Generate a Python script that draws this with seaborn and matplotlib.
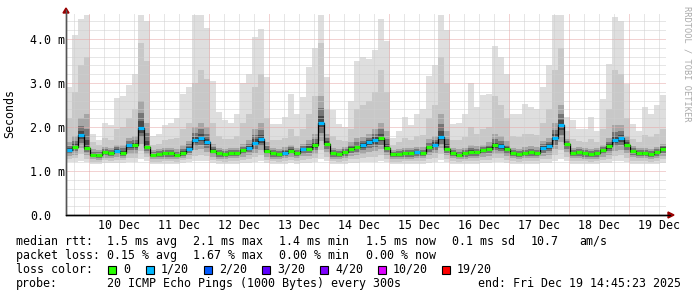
import numpy as np
import matplotlib
matplotlib.use("Agg")
import matplotlib.pyplot as plt
from matplotlib.patches import Rectangle, Polygon
import seaborn as sns

# ---------------- data (ms), one value per 2.4 h bin, start Dec 9 14:45 ----------------
median_ms = [1.47, 1.55, 1.82, 1.52, 1.37, 1.36, 1.43, 1.40, 1.46, 1.42,
             1.58, 1.58, 1.97, 1.55, 1.37, 1.38, 1.40, 1.40, 1.37, 1.42,
             1.51, 1.71, 1.76, 1.65, 1.46, 1.40, 1.38, 1.41, 1.41, 1.47,
             1.53, 1.64, 1.72, 1.46, 1.40, 1.38, 1.42, 1.46, 1.41, 1.49,
             1.51, 1.58, 2.10, 1.62, 1.40, 1.38, 1.43, 1.51, 1.55, 1.58,
             1.65, 1.70, 1.76, 1.53, 1.38, 1.38, 1.40, 1.40, 1.43, 1.41,
             1.55, 1.60, 1.78, 1.51, 1.41, 1.37, 1.40, 1.43, 1.43, 1.47,
             1.50, 1.58, 1.56, 1.49, 1.41, 1.38, 1.41, 1.43, 1.41, 1.52,
             1.56, 1.75, 2.05, 1.62, 1.41, 1.43, 1.40, 1.38, 1.40, 1.47,
             1.56, 1.70, 1.74, 1.60, 1.46, 1.41, 1.41, 1.38, 1.43, 1.51]
max_ms = [2.90, 4.10, 4.45, 4.55, 1.85, 1.70, 2.10, 2.05, 2.65, 2.70,
          2.95, 3.20, 4.55, 4.40, 1.80, 1.85, 2.05, 2.10, 2.20, 2.75,
          2.90, 4.55, 4.55, 4.25, 3.05, 2.34, 2.15, 2.10, 2.30, 3.00,
          3.20, 4.05, 4.22, 3.13, 2.07, 2.07, 2.22, 2.75, 2.30, 2.68,
          3.36, 3.80, 4.55, 3.13, 2.38, 2.07, 2.00, 2.60, 3.50, 3.58,
          3.55, 3.74, 4.45, 3.96, 1.74, 1.92, 2.22, 2.04, 2.30, 2.41,
          3.17, 3.40, 4.55, 4.20, 2.07, 2.10, 2.30, 3.00, 2.45, 2.72,
          2.75, 3.85, 3.60, 3.20, 2.30, 2.30, 2.53, 2.45, 2.41, 2.90,
          3.40, 4.55, 4.55, 2.22, 2.15, 1.96, 1.96, 2.22, 1.92, 2.64,
          3.43, 4.50, 4.40, 2.98, 2.07, 1.92, 2.45, 2.30, 2.50, 2.72]
p90_ms = [2.20, 2.80, 3.40, 3.60, 1.65, 1.60, 1.75, 1.70, 1.95, 2.00,
          2.20, 2.40, 3.90, 3.50, 1.60, 1.62, 1.70, 1.72, 1.75, 1.95,
          2.10, 3.00, 3.30, 3.10, 2.10, 1.80, 1.72, 1.72, 1.80, 2.10,
          2.30, 2.90, 3.20, 2.20, 1.70, 1.70, 1.75, 1.95, 1.80, 1.95,
          2.30, 2.70, 3.90, 2.40, 1.80, 1.70, 1.68, 1.95, 2.40, 2.50,
          2.60, 2.80, 3.30, 2.80, 1.60, 1.65, 1.75, 1.70, 1.80, 1.82,
          2.20, 2.50, 3.60, 3.00, 1.70, 1.70, 1.78, 2.00, 1.85, 1.95,
          2.00, 2.70, 2.50, 2.20, 1.80, 1.78, 1.85, 1.85, 1.82, 2.10,
          2.40, 3.30, 3.80, 1.90, 1.72, 1.68, 1.66, 1.72, 1.65, 1.95,
          2.40, 3.30, 3.20, 2.20, 1.72, 1.65, 1.82, 1.78, 1.85, 1.95]
p75_ms = [1.65, 1.80, 2.20, 2.30, 1.50, 1.48, 1.55, 1.52, 1.60, 1.60,
          1.75, 1.80, 2.60, 2.10, 1.48, 1.50, 1.52, 1.52, 1.50, 1.58,
          1.68, 2.00, 2.10, 2.00, 1.62, 1.52, 1.50, 1.52, 1.53, 1.62,
          1.70, 1.95, 2.10, 1.65, 1.52, 1.50, 1.54, 1.60, 1.53, 1.62,
          1.70, 1.85, 2.70, 1.85, 1.52, 1.50, 1.54, 1.65, 1.75, 1.78,
          1.85, 1.95, 2.10, 1.90, 1.48, 1.50, 1.52, 1.52, 1.55, 1.54,
          1.72, 1.80, 2.30, 1.90, 1.52, 1.50, 1.52, 1.58, 1.56, 1.60,
          1.65, 1.85, 1.80, 1.68, 1.53, 1.50, 1.54, 1.56, 1.54, 1.68,
          1.75, 2.10, 2.50, 1.72, 1.53, 1.54, 1.52, 1.50, 1.52, 1.60,
          1.75, 2.05, 2.05, 1.80, 1.56, 1.52, 1.53, 1.50, 1.55, 1.62]
min_ms = [1.20, 1.20, 1.23, 1.20, 1.16, 1.16, 1.18, 1.18, 1.18, 1.18,
          1.20, 1.20, 1.28, 1.23, 1.16, 1.16, 1.16, 1.16, 1.16, 1.18,
          1.20, 1.23, 1.23, 1.23, 1.18, 1.16, 1.16, 1.16, 1.16, 1.18,
          1.18, 1.20, 1.23, 1.18, 1.16, 1.16, 1.16, 1.18, 1.16, 1.18,
          1.18, 1.20, 1.28, 1.23, 1.16, 1.16, 1.16, 1.18, 1.18, 1.20,
          1.20, 1.20, 1.23, 1.20, 1.16, 1.16, 1.16, 1.16, 1.16, 1.16,
          1.18, 1.20, 1.26, 1.20, 1.16, 1.16, 1.16, 1.16, 1.16, 1.18,
          1.18, 1.20, 1.20, 1.18, 1.16, 1.16, 1.16, 1.16, 1.16, 1.18,
          1.18, 1.23, 1.28, 1.23, 1.16, 1.16, 1.16, 1.16, 1.16, 1.18,
          1.18, 1.23, 1.23, 1.20, 1.16, 1.16, 1.16, 1.16, 1.16, 1.18]
loss_pings = [1, 0, 1, 0, 0, 0, 0, 0, 1, 0,
              1, 0, 1, 0, 0, 0, 0, 0, 0, 0,
              1, 1, 1, 1, 0, 0, 0, 0, 0, 0,
              1, 1, 1, 0, 0, 0, 1, 0, 0, 1,
              0, 0, 1, 0, 0, 0, 0, 0, 0, 1,
              1, 1, 0, 0, 0, 0, 0, 0, 1, 0,
              0, 1, 1, 0, 0, 0, 0, 0, 0, 0,
              0, 0, 1, 0, 0, 0, 0, 0, 0, 1,
              1, 1, 1, 0, 0, 0, 0, 0, 0, 0,
              0, 1, 1, 0, 0, 0, 0, 0, 0, 0]

day_labels = ["10 Dec", "11 Dec", "12 Dec", "13 Dec", "14 Dec",
              "15 Dec", "16 Dec", "17 Dec", "18 Dec", "19 Dec"]
ytick_vals = [0.0, 1.0, 2.0, 3.0, 4.0]
ytick_labels = ["0.0", "1.0 m", "2.0 m", "3.0 m", "4.0 m"]
loss_names = ["0", "1/20", "2/20", "3/20", "4/20", "10/20", "19/20"]
loss_colors = ["#26ff00", "#00b8ff", "#0059ff", "#5e00ff", "#7e00ff", "#dd00ff", "#ff0000"]

BIN_H = 2.4
SPAN_H = 240.0
FIRST_MIDNIGHT_H = 9.25   # Dec 10 00:00 relative to Dec 9 14:45

# ---------------- figure ----------------
sns.set_theme(style="white")
plt.rcParams["font.family"] = ["DejaVu Sans Mono"]
W, H = 697, 297
fig = plt.figure(figsize=(W / 100, H / 100), dpi=100, facecolor="white")
L, R, T, B = 66, 666, 14, 215
ax = fig.add_axes([L / W, 1 - B / H, (R - L) / W, (B - T) / H])
ax.set_facecolor("white")

m = np.array(median_ms)
M = np.array(max_ms)
u = np.array(p90_ms)
q = np.array(p75_ms)
lo = np.array(min_ms)
n = len(m)
t_left = np.arange(n) * BIN_H
t_edges = np.append(t_left, n * BIN_H)
ext = lambda a: np.append(a, a[-1])

# smoke bands, lightest outer to darkest inner
bands = [
    (lo, M, "#dedede"),
    (lo + 0.25 * (m - lo), u, "#c8c8c8"),
    (lo + 0.50 * (m - lo), q, "#a6a6a6"),
    (lo + 0.70 * (m - lo), m + 0.55 * (q - m), "#757575"),
    (lo + 0.85 * (m - lo), m + 0.25 * (q - m), "#484848"),
]
for lower, upper, col in bands:
    ax.fill_between(t_edges, ext(lower), ext(upper), step="post",
                    color=col, lw=0, zorder=1)

ax.set_xlim(0, SPAN_H)
ax.set_ylim(0, (B - T) / 44.0)

# grid (drawn over smoke, 1px dotted)
dot = (0, (1, 1))
for yv in np.arange(0.2, 4.6, 0.2):
    major = abs(yv - round(yv)) < 1e-6
    ln = ax.axhline(yv, color="#e6a6a6" if major else "#cfcfcf", lw=0.72,
                    ls=dot, zorder=2)
    ln.set_snap(True)
midnights = FIRST_MIDNIGHT_H + 24 * np.arange(10)
for xv in np.arange(FIRST_MIDNIGHT_H - 6, SPAN_H, 6):
    major = np.any(np.isclose(xv, midnights))
    ln = ax.axvline(xv, color="#e6a6a6" if major else "#cfcfcf", lw=0.72,
                    ls=dot, zorder=2)
    ln.set_snap(True)

# median line
sns.lineplot(x=t_edges, y=ext(m), drawstyle="steps-post", color="black",
             lw=0.9, ax=ax, zorder=4, sort=False, estimator=None)
ax.hlines(m, t_left, t_left + BIN_H,
          colors=[loss_colors[k] for k in loss_pings], lw=2.3, zorder=5)

# ticks
noons = FIRST_MIDNIGHT_H + 12 + 24 * np.arange(10)
ax.set_xticks(noons)
ax.set_xticklabels(day_labels, fontsize=8.4, color="black")
ax.tick_params(axis="x", length=0, pad=3)
ax.set_yticks(ytick_vals)
ax.set_yticklabels(ytick_labels, fontsize=8.4, color="black", ha="left")
ax.tick_params(axis="y", length=0, pad=36 * 0.72)
ax.grid(False)
for s in ["top", "right"]:
    ax.spines[s].set_visible(False)
ax.spines["left"].set_color("#555555")
ax.spines["left"].set_linewidth(1.0)
ax.spines["bottom"].set_color("black")
ax.spines["bottom"].set_linewidth(1.0)
ax.spines["left"].set_zorder(6)
ax.spines["bottom"].set_zorder(6)

# axis extensions + arrows (figure pixel coords)
def fx(px): return px / W
def fy(py): return 1 - py / H
fig.add_artist(plt.Line2D([fx(L), fx(L)], [fy(B), fy(10)], color="#555555", lw=1.0))
fig.add_artist(plt.Line2D([fx(L), fx(670)], [fy(B), fy(B)], color="black", lw=1.0))
fig.add_artist(Polygon([[fx(L - 3), fy(13)], [fx(L + 3), fy(13)], [fx(L), fy(8)]],
                       closed=True, color="#990000", transform=fig.transFigure))
fig.add_artist(Polygon([[fx(668), fy(B - 3)], [fx(668), fy(B + 3)], [fx(674), fy(B)]],
                       closed=True, color="#990000", transform=fig.transFigure))

ax.set_ylabel("")
fig.text(fx(10), fy(114), "Seconds", rotation=90, fontsize=8.4,
         ha="center", va="center", color="black")
fig.text(fx(687), fy(6), "RRDTOOL / TOBI OETIKER", rotation=270, fontsize=6.2,
         ha="center", va="top", color="#aaaaaa")

# legend / statistics text
fs = 8.4
def t(x, y, s):
    fig.text(fx(x), fy(y), s, fontsize=fs, ha="left", va="center", color="black")

y1, y2, y3, y4 = 241.5, 255.5, 269.5, 283.5
t(16, y1, "median rtt:")
for x, s in [(107, "1.5 ms avg"), (193, "2.1 ms max"), (279, "1.4 ms min"),
             (366, "1.5 ms now"), (452, "0.1 ms sd"), (531, "10.7"), (579, "am/s")]:
    t(x, y1, s)
t(16, y2, "packet loss:")
for x, s in [(107, "0.15 % avg"), (193, "1.67 % max"), (279, "0.00 % min"),
             (366, "0.00 % now")]:
    t(x, y2, s)
t(16, y3, "loss color:")
box_x = [108, 146, 204, 262, 320, 378, 442]
for bx, name, col in zip(box_x, loss_names, loss_colors):
    fig.add_artist(Rectangle((fx(bx), fy(y3 + 4.5)), 8 / W, 8.5 / H,
                             transform=fig.transFigure, facecolor=col,
                             edgecolor="black", lw=0.8))
    t(bx + 15, y3, name)
t(16, y4, "probe:")
t(107, y4, "20 ICMP Echo Pings (1000 Bytes) every 300s")
t(478, y4, "end: Fri Dec 19 14:45:23 2025")

fig.savefig("out.png", dpi=100, facecolor="white")
